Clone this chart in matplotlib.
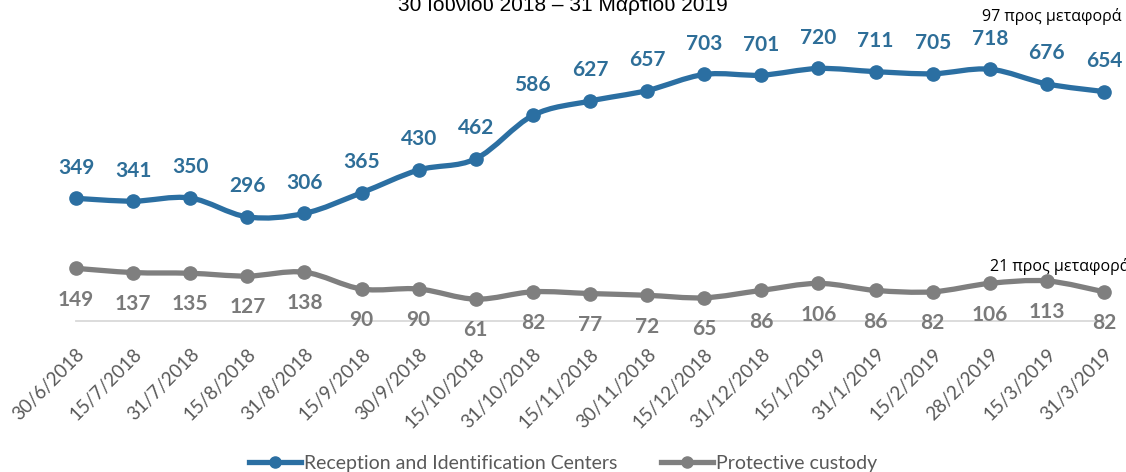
import matplotlib
matplotlib.use("Agg")
import matplotlib.pyplot as plt
from matplotlib.path import Path
from matplotlib.patches import PathPatch
from matplotlib.lines import Line2D
import numpy as np

dates = ["30/6/2018", "15/7/2018", "31/7/2018", "15/8/2018", "31/8/2018",
         "15/9/2018", "30/9/2018", "15/10/2018", "31/10/2018", "15/11/2018",
         "30/11/2018", "15/12/2018", "31/12/2018", "15/1/2019", "31/1/2019",
         "15/2/2019", "28/2/2019", "15/3/2019", "31/3/2019"]
ric = [349, 341, 350, 296, 306, 365, 430, 462, 586, 627, 657, 703, 701, 720,
       711, 705, 718, 676, 654]
custody = [149, 137, 135, 127, 138, 90, 90, 61, 82, 77, 72, 65, 86, 106, 86,
           82, 106, 113, 82]
series_names = ["Reception and Identification Centers", "Protective custody"]
title = "30 Ιουνίου 2018 – 31 Μαρτίου 2019"
note_ric = "97 προς μεταφορά"
note_custody = "21 προς μεταφορά"

BLUE = "#2B6FA2"
BLUE_TXT = "#2E6E98"
GRAY = "#7F7F7F"
GRAY_TXT = "#7A7A7A"

plt.rcParams['font.family'] = ['Lato', 'Open Sans', 'DejaVu Sans']

W, H = 1126, 472
fig = plt.figure(figsize=(W / 100, H / 100), dpi=100)

n = len(dates)
x0_px, x1_px = 76, 1104
y0_px = 320.5  # pixel row (from top) of value 0
ymax = 800
scale = 0.35  # px per unit
ax_left = x0_px / W
ax_w = (x1_px - x0_px) / W
ax_bottom = (H - y0_px) / H
ax_h = ymax * scale / H
ax = fig.add_axes([ax_left, ax_bottom, ax_w, ax_h])
ax.set_xlim(0, n - 1)
ax.set_ylim(0, ymax)

x = np.arange(n)


def smooth_path(xs, ys):
    pts = np.column_stack([xs, ys]).astype(float)
    verts = [pts[0]]
    codes = [Path.MOVETO]
    m = len(pts)
    for i in range(m - 1):
        p0 = pts[i - 1] if i > 0 else pts[i]
        p1 = pts[i]
        p2 = pts[i + 1]
        p3 = pts[i + 2] if i + 2 < m else pts[i + 1]
        c1 = p1 + (p2 - p0) / 6.0
        c2 = p2 - (p3 - p1) / 6.0
        verts += [c1, c2, p2]
        codes += [Path.CURVE4] * 3
    return Path(verts, codes)


for vals, col in [(ric, BLUE), (custody, GRAY)]:
    patch = PathPatch(smooth_path(x, vals), facecolor='none', edgecolor=col,
                      lw=3.8, capstyle='round', joinstyle='round',
                      clip_on=False, zorder=3)
    ax.add_patch(patch)
    ax.plot(x, vals, linestyle='none', marker='o', markersize=9.5,
            color=col, clip_on=False, zorder=4)

for xi, v in zip(x, ric):
    ax.annotate(str(v), (xi, v), xytext=(0, 22), textcoords='offset points',
                ha='center', va='center', fontsize=15, fontweight='bold',
                color=BLUE_TXT, zorder=5)
for xi, v in zip(x, custody):
    ax.annotate(str(v), (xi, v), xytext=(0, -22.5), textcoords='offset points',
                ha='center', va='center', fontsize=15, fontweight='bold',
                color=GRAY_TXT, zorder=5)

for s in ['top', 'right', 'left']:
    ax.spines[s].set_visible(False)
ax.spines['bottom'].set_color('#D9D9D9')
ax.spines['bottom'].set_linewidth(1.3)
ax.set_yticks([])
ax.set_xticks(x)
ax.set_xticklabels(dates, rotation=45, ha='right', rotation_mode='anchor',
                   fontsize=13.5, color='#595959')
ax.tick_params(axis='x', length=0, pad=18)

fig.text(0.5, 1 - 11 / H, title, ha='center', va='baseline', fontsize=15,
         family=['Liberation Sans', 'DejaVu Sans'], color='#000000')
fig.text(1122 / W, 1 - 21 / H, note_ric, ha='right', va='baseline',
         fontsize=11.5, family=['Open Sans', 'DejaVu Sans'], color='#000000')
fig.text(1130 / W, 1 - 271 / H, note_custody, ha='right', va='baseline',
         fontsize=11.5, family=['Open Sans', 'DejaVu Sans'], color='#000000')

handles = [Line2D([], [], color=BLUE, lw=3.8, marker='o', markersize=8),
           Line2D([], [], color=GRAY, lw=3.8, marker='o', markersize=8)]
fig.legend(handles, series_names, loc='center', bbox_to_anchor=(0.5, 1 - 463 / H),
           ncol=2, frameon=False, fontsize=14, handlelength=2.7,
           handletextpad=0.15, columnspacing=2.2, labelcolor='#595959')

fig.savefig("out.png", dpi=100)
